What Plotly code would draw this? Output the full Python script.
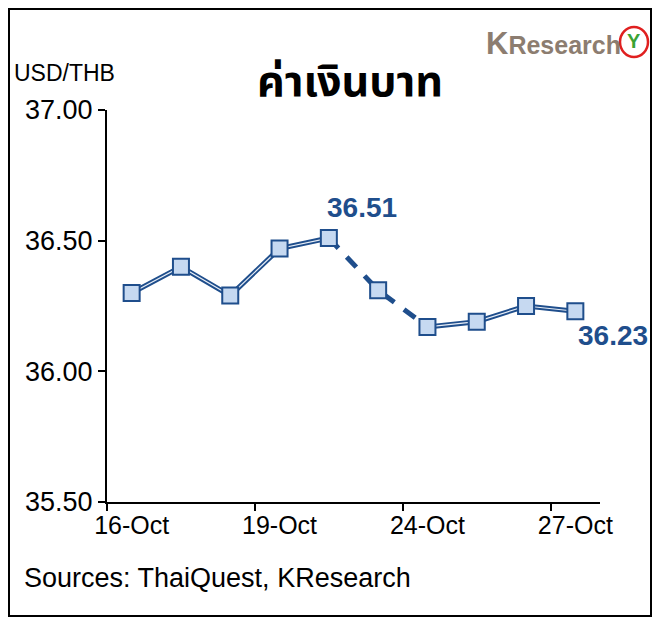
import plotly.graph_objects as go

dates = ["16-Oct", "17-Oct", "18-Oct", "19-Oct", "20-Oct",
         "23-Oct", "24-Oct", "25-Oct", "26-Oct", "27-Oct"]
usd_thb = [36.30, 36.40, 36.29, 36.47, 36.51, 36.31, 36.17, 36.19, 36.25, 36.23]
tick_labels = ["16-Oct", "19-Oct", "24-Oct", "27-Oct"]
y_ticks = [35.5, 36.0, 36.5, 37.0]

DARK = "#1F4E8C"
LIGHT = "#C6D9F1"
FONT = "Liberation Sans, Arial, sans-serif"

# page offset compensation (browser body margin)
OFF = 8

xs = list(range(len(dates)))
fig = go.Figure()

seg1 = slice(0, 5)
seg_d = slice(4, 7)
seg2 = slice(6, 10)

for sl in (seg1, seg2):
    fig.add_trace(go.Scatter(x=xs[sl], y=usd_thb[sl], mode="lines",
                             line=dict(color=DARK, width=5), hoverinfo="skip"))
    fig.add_trace(go.Scatter(x=xs[sl], y=usd_thb[sl], mode="lines",
                             line=dict(color="#E8EEF7", width=1.2), hoverinfo="skip"))
fig.add_trace(go.Scatter(x=xs[seg_d], y=usd_thb[seg_d], mode="lines",
                         line=dict(color=DARK, width=5, dash="14px,12px"), hoverinfo="skip"))
fig.add_trace(go.Scatter(x=xs, y=usd_thb, mode="markers",
                         marker=dict(symbol="square", size=16, color=LIGHT,
                                     line=dict(color=DARK, width=2)),
                         text=dates, hovertemplate="%{text}: %{y:.2f}<extra></extra>"))

# data labels
fig.add_annotation(x=xs[4], y=usd_thb[4], text="<b>%.2f</b>" % usd_thb[4], showarrow=False,
                   xshift=33, yshift=31, font=dict(family=FONT, size=28, color=DARK))
fig.add_annotation(x=xs[9], y=usd_thb[9], text="<b>%.2f</b>" % usd_thb[9], showarrow=False,
                   xshift=38, yshift=-24, font=dict(family=FONT, size=28, color=DARK))

L, R, T, B = 107 - OFF, 60, 110 - OFF, 117
W, H = 660 - OFF, 619 - OFF
pw, ph = W - L - R, H - T - B


def px(xpix):
    return (xpix - OFF - L) / pw


def py(ypix):
    return 1 - (ypix - OFF - T) / ph


fig.add_annotation(xref="paper", yref="paper", x=px(12), y=py(73), xanchor="left", yanchor="middle",
                   text="USD/THB", showarrow=False, font=dict(family=FONT, size=23, color="black"))
fig.add_annotation(xref="paper", yref="paper", x=px(350), y=py(82), xanchor="center", yanchor="middle",
                   text="<b>ค่าเงินบาท</b>", showarrow=False,
                   font=dict(family="Noto Sans Thai, Noto Sans, DejaVu Sans, sans-serif", size=43, color="black"))
fig.add_annotation(xref="paper", yref="paper", x=px(22), y=py(578), xanchor="left", yanchor="middle",
                   text="Sources: ThaiQuest, KResearch", showarrow=False,
                   font=dict(family=FONT, size=27, color="black"))
# logo
fig.add_annotation(xref="paper", yref="paper", x=px(484), y=py(43), xanchor="left", yanchor="middle",
                   text="<b><span style='font-size:31px'>K</span>Research</b>", showarrow=False,
                   font=dict(family="Liberation Sans Narrow, Liberation Sans, sans-serif", size=25, color="#8C7D70"))
fig.add_shape(type="circle", xref="paper", yref="paper",
              x0=px(620), x1=px(648), y0=py(57), y1=py(27),
              line=dict(color="#E02020", width=2.5), fillcolor="white")
fig.add_annotation(xref="paper", yref="paper", x=px(634), y=py(41), xanchor="center", yanchor="middle",
                   text="<b>Y</b>", showarrow=False, font=dict(family=FONT, size=20, color="#3AA335"))

# outer frame
fig.add_shape(type="rect", xref="paper", yref="paper",
              x0=px(OFF + 1), x1=px(651), y0=py(616), y1=py(OFF + 1),
              line=dict(color="black", width=2), fillcolor="rgba(0,0,0,0)")

fig.update_layout(
    width=W, height=H,
    margin=dict(l=L, r=R, t=T, b=B),
    paper_bgcolor="white", plot_bgcolor="white",
    showlegend=False,
    font=dict(family=FONT, size=18, color="black"),
    xaxis=dict(range=[-0.5, 9.5], tickmode="array",
               tickvals=[dates.index(t) for t in tick_labels], ticktext=tick_labels,
               ticks="", showgrid=False, zeroline=False,
               showline=True, linecolor="black", linewidth=2,
               tickfont=dict(family=FONT, size=25),
               minor=dict(tickmode="array",
                          tickvals=[dates.index(t) - 0.5 for t in tick_labels],
                          ticks="outside", ticklen=7, tickwidth=2, tickcolor="black")),
    yaxis=dict(range=[35.5, 37.0], tickmode="array", tickvals=y_ticks,
               ticktext=["%.2f" % v for v in y_ticks],
               ticks="outside", ticklen=7, tickwidth=2, tickcolor="black",
               showgrid=False, zeroline=False,
               showline=True, linecolor="black", linewidth=2,
               tickfont=dict(family=FONT, size=27)),
)

fig.write_html("out.html")
